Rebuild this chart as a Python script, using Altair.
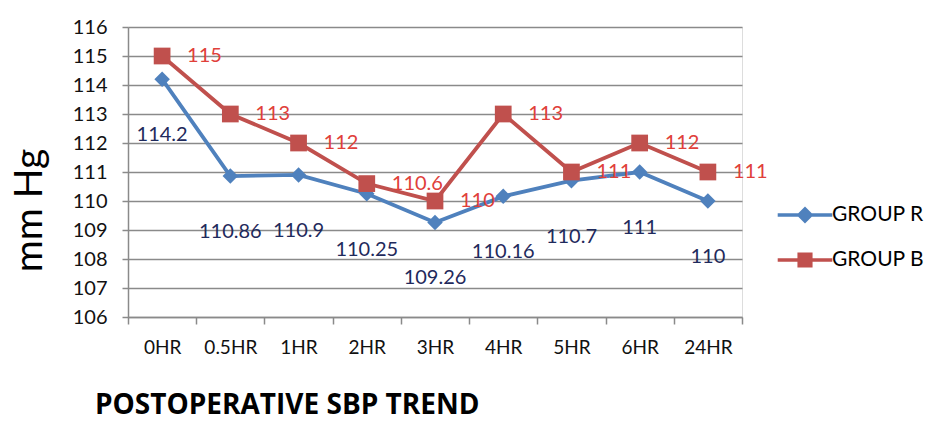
import altair as alt
import pandas as pd

hours = ["0HR", "0.5HR", "1HR", "2HR", "3HR", "4HR", "5HR", "6HR", "24HR"]
group_r = [114.2, 110.86, 110.9, 110.25, 109.26, 110.16, 110.7, 111, 110]
group_b = [115, 113, 112, 110.6, 110, 113, 111, 112, 111]
groups = ["GROUP R", "GROUP B"]
y_ticks = list(range(106, 117))

rows = []
for g, vals in zip(groups, [group_r, group_b]):
    for h, v in zip(hours, vals):
        rows.append({"hour": h, "value": v, "group": g, "label": f"{v:g}"})
df = pd.DataFrame(rows)

FONT = "Lato"
BLUE, RED = "#4F81BD", "#C0504D"
color_scale = alt.Scale(domain=groups, range=[BLUE, RED])

x_enc = alt.X(
    "hour:N", sort=hours,
    scale=alt.Scale(type="band", paddingInner=0, paddingOuter=0),
    axis=alt.Axis(title=None, labelAngle=0, labelFont=FONT, labelFontSize=19,
                  labelColor="#111", labelPadding=14, tickBand="extent",
                  tickSize=7, tickColor="#8a8a8a", domainColor="#8a8a8a",
                  domainWidth=1.5, tickWidth=1.5, grid=False),
)
y_enc = alt.Y(
    "value:Q",
    scale=alt.Scale(domain=[106, 116], nice=False, zero=False),
    axis=alt.Axis(values=y_ticks, title="mm Hg", titleFont=FONT, titleFontSize=39,
                  titleFontWeight="normal", titleColor="#000", titlePadding=23,
                  titleY=183,
                  labelFont=FONT, labelFontSize=20, labelColor="#111", labelPadding=15,
                  tickSize=6, tickColor="#8a8a8a", tickWidth=1.5,
                  domainColor="#8a8a8a", domainWidth=1.5,
                  grid=True, gridColor="#8a8a8a", gridWidth=1.5),
)

base = alt.Chart(df).encode(x=x_enc, y=y_enc)
is_r = alt.datum.group == "GROUP R"
is_b = alt.datum.group == "GROUP B"

line_r = base.transform_filter(is_r).mark_line(strokeWidth=3.8, color=BLUE)
line_b = base.transform_filter(is_b).mark_line(strokeWidth=3.8, color=RED)
pts_r = base.transform_filter(is_r).mark_point(
    shape="diamond", filled=True, opacity=1, size=240, color=BLUE)
pts_b = base.transform_filter(is_b).mark_point(
    shape="square", filled=True, opacity=1, size=280, color=RED)

txt_r = base.transform_filter(is_r).mark_text(
    align="center", baseline="middle", dy=56, font=FONT, fontSize=20, color="#1F2A5C"
).encode(text="label:N")
txt_b = base.transform_filter(is_b).mark_text(
    align="left", baseline="middle", dx=25, font=FONT, fontSize=20, color="#E0403A"
).encode(text="label:N")

path_r = "M-1.3,-0.08H-0.32L0,-0.4L0.32,-0.08H1.3V0.08H0.32L0,0.4L-0.32,0.08H-1.3Z"
path_b = "M-1.3,-0.08H-0.36V-0.36H0.36V-0.08H1.3V0.08H0.36V0.36H-0.36V0.08H-1.3Z"

leg = dict(orient="none", legendX=656, legendY=167, title=None, symbolSize=1764,
           symbolStrokeWidth=0, symbolOpacity=1, labelFont=FONT, labelFontSize=21,
           labelColor="#000", labelOffset=6, rowPadding=14, padding=0)

legend_layer = base.mark_point(filled=True, opacity=0).encode(
    color=alt.Color("group:N", scale=color_scale, legend=alt.Legend(**leg)),
    shape=alt.Shape("group:N", scale=alt.Scale(domain=groups, range=[path_r, path_b]),
                    legend=alt.Legend(**leg)),
)

chart = alt.layer(line_r, line_b, pts_r, pts_b, txt_r, txt_b, legend_layer).properties(
    width=614, height=290,
    autosize=alt.AutoSizeParams(type="none"),
    padding={"left": 120, "top": 19, "right": 182, "bottom": 105},
    title=alt.TitleParams("POSTOPERATIVE SBP TREND", orient="bottom", anchor="start",
                          frame="group", font="Open Sans", fontSize=28,
                          fontWeight="bold", color="#000", dx=-33, offset=35),
).configure_view(stroke=None).configure(background="white")

chart.save("out.html", embed_options={"renderer": "svg", "actions": False})
